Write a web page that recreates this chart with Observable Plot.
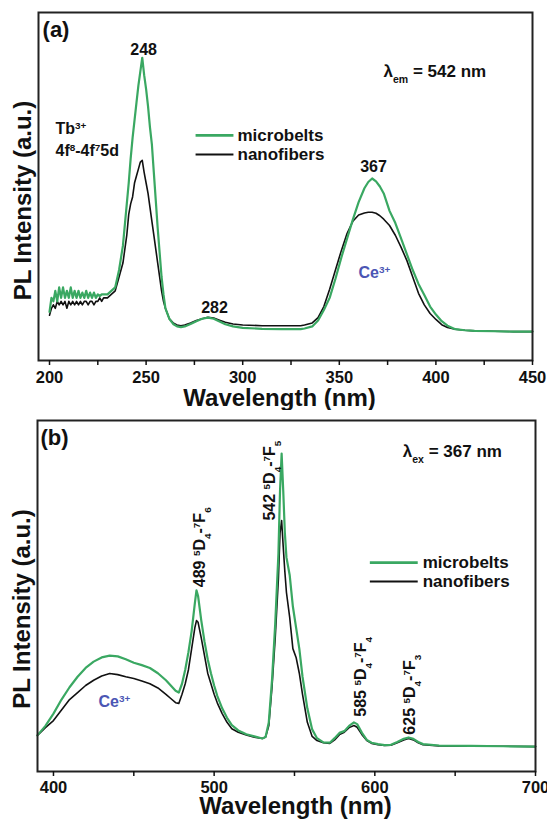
<!DOCTYPE html>
<html>
<head>
<meta charset="utf-8">
<script src="https://cdn.jsdelivr.net/npm/d3@7"></script>
<script src="https://cdn.jsdelivr.net/npm/@observablehq/plot@0.6"></script>
<style>
  html, body { margin: 0; padding: 0; background: #fff; overflow: hidden; }
  #wrap { position: relative; width: 547px; height: 821px; }
  #wrap svg { display: block; overflow: hidden; }
</style>
</head>
<body>
<div id="wrap"></div>
<script>
// ---------- Panel (a): excitation spectra ----------
const waveA = [200,201,202,203,204,205,206,207,208,209,210,211,212,213,214,215,216,217,218,219,220,221,222,223,224,225,226,227,228,230,232,234,236,238,240,241,242,243,244,245,246,247,248,249,250,251,252,253,254,255,256,257,258,259,260,262,264,266,268,270,273,276,279,282,285,288,291,295,300,310,320,330,332,336,339,342,345,348,351,354,357,360,363,365,367,369,371,373,376,379,382,385,388,391,394,397,400,403,406,410,415,420,430,440,450];
const microA = [14,18,17,20,17,21,18,21,18,20,18,21,18,20,18,20,18,19.5,18,20,18,19.5,18,19.5,18,19,18.5,19,19,19,20,21,26,33,45,51,58,64,69,74,79,83,87,82,78,73,67,62,54,46,38,31,24,19,15,12,10.5,9.8,9.6,9.8,10.5,11.3,12,12.3,12,11.2,10.4,9.8,9.4,9.1,9,9,9.2,9.8,11.5,14.5,18,23.5,29.5,35,40.5,45.5,49.5,51.3,52.3,51.5,50,48,43,39.5,35,30.5,26,22,18.8,15.5,13.2,11.3,10,9,8.7,8.5,8.4,8.3,8.3];
const nanoA = [13,15,16,15,17,16,17,16,17,15,17,16,17,16,17,16,17,16,17,17,16,17,17,16,17,17,18,17,18,18,19,20,24,28,36,42,45,47,51,53,55,57,57.5,54,51,48,44,40,36,32,28,24,20,17,15,12,10.8,10.2,10,10.2,10.8,11.5,12,12.4,12.2,11.6,11,10.5,10.2,10,10,10,10.2,10.8,12.3,15.5,20.5,26,31.5,36.5,40,41.8,42.4,42.6,42.6,42.3,41.6,40.6,38.8,36,32.5,28.7,24,19.3,16,13.5,11.8,10.3,9.5,9,8.7,8.5,8.4,8.3,8.3];

// ---------- Panel (b): emission spectra ----------
const waveB = [390,395,400,405,410,415,420,425,430,435,440,445,450,455,460,465,470,473,476,478,480,482,484,486,488,489,490,492,494,496,498,500,502,505,508,511,515,520,525,530,532,534,536,538,540,541,542,543,544,545,547,549,551,553,555,558,561,564,568,572,575,578,581,584,587,589,592,595,598,602,606,610,614,618,621,624,627,630,640,660,680,700];
const microB = [10.3,13,16.5,20.5,24,27,29.5,31.3,32.5,33,32.8,32,31,30.3,29.5,28,26,24.5,23,22.5,25,29,34,40,48,51.6,50,43,37,32,28,24.5,21.5,18,15.3,13.2,11.7,10.6,10,9.4,9.8,14,26,42,62,80,90.6,80,68,61,56,47,41,35,27,18,12,9.5,8.3,8.2,9.5,11,11.5,13,14,13.5,11,9,8.2,7.8,7.5,7.6,8.4,9.3,9.7,9.3,8.4,7.8,7.4,7.3,7.2,7.1];
const nanoB = [10.3,12.5,14.5,17.5,20.5,22.5,24.5,26,27.2,27.9,27.6,27,26.5,25.8,25,23.8,22,20.8,19.6,19.4,22,25,29,35,41,43,42.5,38,33,28,25,22,19.5,16.5,14,12.2,11.2,10.4,9.8,9.4,9.8,13,24,38,55,68,71.5,64,57,51,44,35,32.5,28,22,14,10,8.8,8.2,8,9,10.5,11.2,12.5,13.1,12.6,10.5,8.8,8,7.6,7.4,7.5,8.2,9,9.4,9,8.2,7.6,7.3,7.2,7.2,7.1];

// ---------- ticks, series, labels ----------
const ticksA = [200,250,300,350,400,450];
const minorA = [225,275,325,375,425];
const ticksB = [400,500,600,700];
const minorB = [450,550,650];
const seriesNames = ["microbelts","nanofibers"];
const seriesColors = ["#3aa862","#111111"];
const axisTitle = "Wavelength (nm)";
const yTitle = "PL Intensity (a.u.)";

const labelsA = [
  {x:196.4, y:95.1, text:"(a)", anchor:"start", size:22, color:"#111"},
  {x:248.7, y:89.4, text:"248", anchor:"middle", size:16, color:"#111"},
  {x:203.1, y:66.7, text:"Tb^{3+}", anchor:"start", size:16, color:"#111"},
  {x:203.1, y:60.3, text:"4f^{8}-4f^{7}5d", anchor:"start", size:16, color:"#111"},
  {x:372.9, y:83.0, text:"λ_{em} = 542 nm", anchor:"start", size:17, color:"#111"},
  {x:367.7, y:55.7, text:"367", anchor:"middle", size:16, color:"#111"},
  {x:285.4, y:15.2, text:"282", anchor:"middle", size:16, color:"#111"},
  {x:359.9, y:25.3, text:"Ce^{3+}", anchor:"start", size:16, color:"#4b56b4"}
];
const legendA = {x1:275.6, x2:295.2, xt:297.3, y:[64.7, 59.2]};

const labelsB = [
  {x:391.9, y:94.9, text:"(b)", anchor:"start", size:22, color:"#111"},
  {x:617.4, y:91.2, text:"λ_{ex} = 367 nm", anchor:"start", size:17, color:"#111"},
  {x:428.0, y:19.7, text:"Ce^{3+}", anchor:"start", size:16, color:"#4b56b4"}
];
const peakLabelsB = [
  {x:491.0, y:52.5, text:"489 ^{5}D_{4}-^{7}F_{6}"},
  {x:534.8, y:71.5, text:"542 ^{5}D_{4}-^{7}F_{5}"},
  {x:591.3, y:15.6, text:"585 ^{5}D_{4}-^{7}F_{4}"},
  {x:621.7, y:10.5, text:"625 ^{5}D_{4}-^{7}F_{3}"}
];
const legendB = {x1:596.9, x2:626.7, xt:629.8, y:[59.5, 54.1]};

const FONT = "'Liberation Sans', Arial, Helvetica, sans-serif";

function rows(w, v){ return w.map((d,i)=>({w:d, v:v[i]})); }

function richify(svg){
  svg.querySelectorAll("text").forEach(t => {
    const s = t.textContent;
    if (!/[\^_]\{/.test(s)) return;
    while (t.firstChild) t.removeChild(t.firstChild);
    const re = /([\^_])\{([^}]*)\}|([^\^_]+)/g;
    let m;
    while ((m = re.exec(s))) {
      const ts = document.createElementNS("http://www.w3.org/2000/svg","tspan");
      if (m[3] !== undefined) ts.textContent = m[3];
      else {
        ts.textContent = m[2];
        ts.setAttribute("baseline-shift", m[1] === "^" ? "super" : "sub");
        ts.setAttribute("font-size", "62%");
      }
      t.appendChild(ts);
    }
  });
}

function panel(o){
  const legRows = seriesNames.map((n,i)=>({name:n, color:seriesColors[i], x1:o.legend.x1, x2:o.legend.x2, xt:o.legend.xt, y:o.legend.y[i]}));
  const marks = [
    Plot.line(rows(o.wave, o.nano), {x:"w", y:"v", stroke:seriesColors[1], strokeWidth:1.6}),
    Plot.line(rows(o.wave, o.micro), {x:"w", y:"v", stroke:seriesColors[0], strokeWidth:2.2}),
    Plot.frame({stroke:"#222", strokeWidth:2}),
    Plot.axisX(o.ticks, {tickSize:5, tickPadding:o.pad, fontSize:16.5, fontWeight:"bold", label:null, strokeWidth:1.5}),
    Plot.axisX(o.minor, {tickSize:5, tickFormat:()=>"", label:null, strokeWidth:1.5}),
    Plot.text([axisTitle], {frameAnchor:"bottom", text:d=>d, textAnchor:"middle", lineAnchor:"middle", dy:o.titleDy, dx:o.titleDx, fontSize:24, fontWeight:"bold", fill:"#111"}),
    Plot.text([yTitle], {frameAnchor:"left", text:d=>d, rotate:-90, textAnchor:"middle", lineAnchor:"middle", dx:-15, dy:o.yDy, fontSize:24, fontWeight:"bold", fill:"#111"}),
    Plot.link(legRows, {x1:"x1", x2:"x2", y1:"y", y2:"y", stroke:"color", strokeWidth:d=>d.name==="microbelts"?2.6:2}),
    Plot.text(legRows, {x:"xt", y:"y", text:"name", textAnchor:"start", fontSize:17, fontWeight:"bold", fill:"#111"})
  ];
  for (const l of o.labels) {
    marks.push(Plot.text([l], {x:"x", y:"y", text:"text", textAnchor:l.anchor, fontSize:l.size, fontWeight:"bold", fill:l.color}));
  }
  if (o.peaks) marks.push(Plot.text(o.peaks, {x:"x", y:"y", text:"text", rotate:-90, textAnchor:"start", fontSize:16, fontWeight:"bold", fill:"#111"}));
  const svg = Plot.plot({
    width:547, height:o.height,
    marginLeft:o.ml, marginRight:o.mr, marginTop:o.mt, marginBottom:o.mb,
    x:{domain:o.domain, label:null},
    y:{domain:[0,100], axis:null, label:null},
    style:{fontFamily:FONT, background:"#fff", color:"#111", overflow:"hidden"},
    marks
  });
  richify(svg);
  return svg;
}

const wrap = document.getElementById("wrap");
wrap.appendChild(panel({
  wave:waveA, micro:microA, nano:nanoA, ticks:ticksA, minor:minorA,
  domain:[194.3,450], height:410, ml:38, mr:15, mt:12, mb:50, pad:6,
  titleDy:38, titleDx:-6, yDy:14, labels:labelsA, legend:legendA
}));
wrap.appendChild(panel({
  wave:waveB, micro:microB, nano:nanoB, ticks:ticksB, minor:minorB,
  domain:[390.06,700], height:411, ml:37, mr:12, mt:10, mb:50, pad:5,
  titleDy:35, titleDx:9, yDy:13, labels:labelsB, legend:legendB, peaks:peakLabelsB
}));
</script>
</body>
</html>
